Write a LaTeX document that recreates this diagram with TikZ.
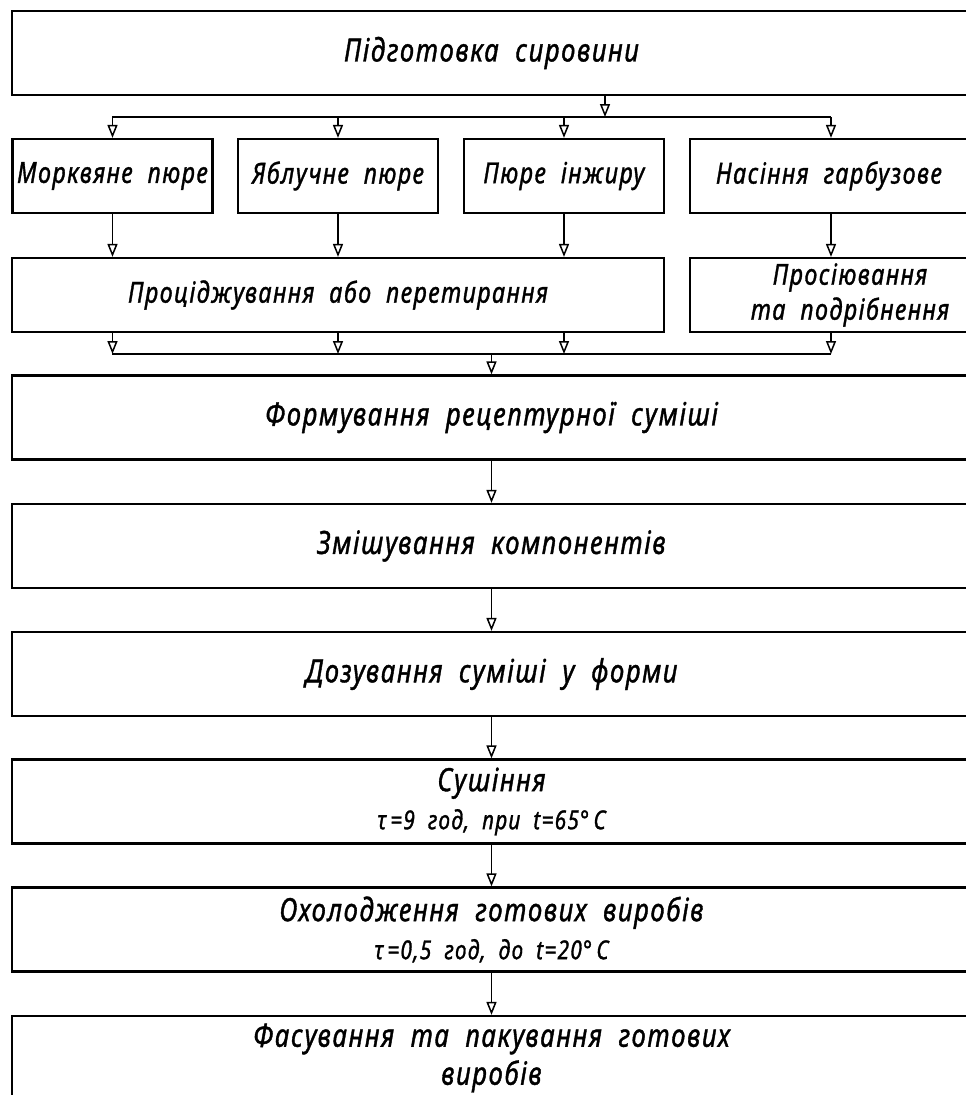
\documentclass[tikz,border=0pt]{standalone}
\usepackage{fontspec}
\setmainfont{Noto Sans}[FakeStretch=0.8,FakeBold=1.2,LetterSpace=5,WordSpace=2.0]
\usetikzlibrary{arrows.meta}
\begin{document}
\begin{tikzpicture}[x=1pt,y=-1pt,
  box/.style={draw=black,line width=2.2pt,rectangle,inner sep=0pt,align=center,
    font=\itshape\fontsize{29}{38}\selectfont},
  wide/.style={box,minimum width=959pt,minimum height=84pt,font=\itshape\fontsize{32}{38}\selectfont},
  small/.style={box,minimum width=200pt,minimum height=74pt},
  lbl/.style={inner sep=0pt,align=center,font=\itshape\fontsize{29}{35}\selectfont},
  arr/.style={line width=1.8pt,-{Triangle[open,length=13pt,width=10pt,line width=1.5pt]}},
  ln/.style={line width=2pt}]
\useasboundingbox (0,0) rectangle (966,1095);
\clip (0,0) rectangle (966,1095);
% top
\node[wide] (top) at (491.5,53) {Підготовка сировини};
% row 1
\node[small] (b1) at (112.5,176) {Морквяне пюре};
\node[small] (b2) at (338,176) {Яблучне пюре};
\node[small] (b3) at (564,176) {Пюре інжиру};
\node[box,minimum width=281pt,minimum height=74pt] (b4) at (830.5,176) {};
\node[lbl] (b4t) at (829,176) {Насіння гарбузове};
% row 2
\node[box,minimum width=652pt,minimum height=74pt] (p1) at (338,295) {Проціджування або перетирання};
\node[box,minimum width=281pt,minimum height=74pt] (p2) at (830.5,295) {};
\node[lbl] (p2t) at (850,295) {Просіювання\\та подрібнення};
% main chain
\node[wide] (form) at (491.5,417.5) {Формування рецептурної суміші};
\node[wide] (mix) at (491.5,546) {Змішування компонентів};
\node[wide] (dose) at (491.5,674) {Дозування суміші у форми};
\node[wide] (dry) at (491.5,801.5) {Сушіння\\{\fontsize{26}{28}\selectfont τ\,=9\enspace год,\enspace при\enspace t=65°\,C}};
\node[wide] (cool) at (491.5,929.5) {Охолодження готових виробів\\{\fontsize{26}{28}\selectfont τ\,=0,5\enspace год,\enspace до\enspace t=20°\,C}};
\node[wide] (pack) at (491.5,1058) {Фасування та пакування готових\\виробів};
% split
\coordinate (jtop) at (605,117);
\coordinate (jl) at (112,117);
\coordinate (jr) at (831,117);
\draw[arr] (top.south -| jtop) -- (jtop);
\draw[ln] (jl) -- (jr);
\draw[arr] (b1.north |- jl) -- (b1.north);
\draw[arr] (b2.north |- jl) -- (b2.north);
\draw[arr] (b3.north |- jl) -- (b3.north);
\draw[arr] (jr) -- (jr |- b4.north);
% row1 -> row2
\draw[arr] (b1.south) -- (b1.south |- p1.north);
\draw[arr] (b2.south) -- (b2.south |- p1.north);
\draw[arr] (b3.south) -- (b3.south |- p1.north);
\draw[arr] (jr |- b4.south) -- (jr |- p2.north);
% merge
\coordinate (ml) at (112,354);
\coordinate (mr) at (831,354);
\coordinate (mc) at (491.5,354);
\draw[arr] (b1 |- p1.south) -- (b1 |- ml);
\draw[arr] (b2 |- p1.south) -- (b2 |- ml);
\draw[arr] (b3 |- p1.south) -- (b3 |- ml);
\draw[arr] (mr |- p2.south) -- (mr);
\draw[ln] (ml) -- (mr);
\draw[arr] (mc) -- (form.north);
% chain
\draw[arr] (form.south) -- (mix.north);
\draw[arr] (mix.south) -- (dose.north);
\draw[arr] (dose.south) -- (dry.north);
\draw[arr] (dry.south) -- (cool.north);
\draw[arr] (cool.south) -- (pack.north);
\end{tikzpicture}
\end{document}
